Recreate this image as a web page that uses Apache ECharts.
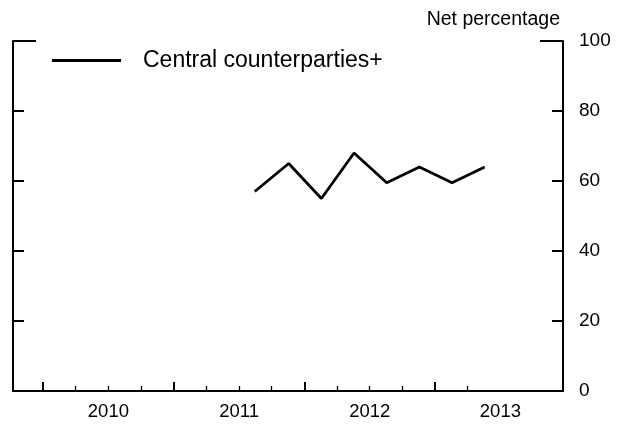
<!DOCTYPE html>
<html>
<head>
<meta charset="utf-8">
<script src="https://cdn.jsdelivr.net/npm/echarts@6/dist/echarts.min.js"></script>
<style>html,body{margin:0;padding:0;background:#fff}#c{width:626px;height:425px}</style>
</head>
<body>
<div id="c"></div>
<script>
// Survey dates (decimal years) and net percentages
var dates = [2011.62, 2011.88, 2012.13, 2012.38, 2012.63, 2012.88, 2013.13, 2013.38];
var centralCounterparties = [57, 65, 55, 68, 59.5, 64, 59.5, 64];
var seriesName = 'Central counterparties+';
var yearTicks = [2010, 2011, 2012, 2013];
var quarterTicks = [2010.25, 2010.5, 2010.75, 2011.25, 2011.5, 2011.75, 2012.25, 2012.5, 2012.75, 2013.25];
var yearLabelPos = [2010.5, 2011.5, 2012.5, 2013.5];

var FONT = '"Liberation Sans", Arial, sans-serif';
var chart = echarts.init(document.getElementById('c'), null, {renderer: 'canvas'});
var xMin = 2009.770, xMax = 2013.979;
var common = {type: 'value', min: xMin, max: xMax, splitLine: {show: false}};
chart.setOption({
  animation: false,
  backgroundColor: '#fff',
  textStyle: {fontFamily: FONT},
  grid: {left: 13, right: 63, top: 41, bottom: 34},
  legend: {
    show: true,
    left: 52, top: 49, padding: 0,
    itemWidth: 69, itemHeight: 3, itemGap: 10,
    data: [{name: seriesName, icon: 'rect'}],
    textStyle: {fontFamily: FONT, fontSize: 23, color: '#000', padding: [0, 0, 0, 17]},
    itemStyle: {color: '#000'}
  },
  xAxis: [
    Object.assign({}, common, {
      position: 'bottom',
      axisLine: {show: true, lineStyle: {color: '#000', width: 2}},
      axisTick: {show: true, inside: true, length: 9, customValues: yearTicks, lineStyle: {color: '#000', width: 2}},
      axisLabel: {show: true, customValues: yearLabelPos, margin: 11, color: '#000', fontSize: 18.5, fontFamily: FONT,
        formatter: function (v) { return String(Math.floor(v)); }}
    }),
    Object.assign({}, common, {
      position: 'bottom',
      axisLine: {show: false},
      axisTick: {show: true, inside: true, length: 5, customValues: quarterTicks, lineStyle: {color: '#000', width: 1.3}},
      axisLabel: {show: false}
    })
  ],
  yAxis: [
    {type: 'value', position: 'right', min: 0, max: 100, interval: 20,
      splitLine: {show: false},
      axisLine: {show: true, lineStyle: {color: '#000', width: 2}},
      axisTick: {show: true, inside: true, length: 11, lineStyle: {color: '#000', width: 2}},
      axisLabel: {show: true, margin: 16, color: '#000', fontSize: 19, fontFamily: FONT},
      name: 'Net percentage', nameLocation: 'end', nameGap: 11,
      nameTextStyle: {color: '#000', fontSize: 19.5, fontFamily: FONT, align: 'right', padding: [0, 3, 0, 0]}
    },
    {type: 'value', position: 'left', min: 0, max: 100, interval: 20,
      splitLine: {show: false},
      axisLine: {show: true, lineStyle: {color: '#000', width: 2}},
      axisTick: {show: true, inside: true, length: 11, lineStyle: {color: '#000', width: 2}},
      axisLabel: {show: false}
    },
    {type: 'value', position: 'right', min: 0, max: 100,
      splitLine: {show: false}, axisLine: {show: false}, axisLabel: {show: false},
      axisTick: {show: true, inside: true, length: 23, customValues: [100], lineStyle: {color: '#000', width: 2}}
    },
    {type: 'value', position: 'left', min: 0, max: 100,
      splitLine: {show: false}, axisLine: {show: false}, axisLabel: {show: false},
      axisTick: {show: true, inside: true, length: 23, customValues: [100], lineStyle: {color: '#000', width: 2}}
    }
  ],
  series: [{
    name: seriesName,
    type: 'line',
    xAxisIndex: 0, yAxisIndex: 0,
    symbol: 'none',
    lineStyle: {color: '#000', width: 2.8},
    itemStyle: {color: '#000'},
    data: dates.map(function (d, i) { return [d, centralCounterparties[i]]; })
  }]
});
</script>
</body>
</html>
